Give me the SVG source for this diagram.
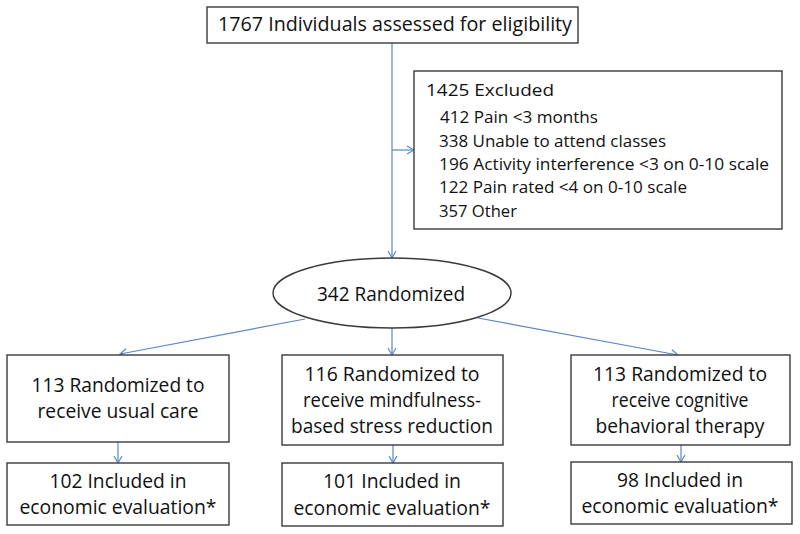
<svg xmlns="http://www.w3.org/2000/svg" width="800" height="534" viewBox="0 0 800 534">
<style>
.box{fill:#fff;stroke:#3a3a3a;stroke-width:1.4}
.t{font-family:"Open Sans","Liberation Sans",sans-serif;fill:#111;font-size:20.5px}
.c{text-anchor:middle}
.e{font-size:19.5px}
.s{font-size:15.5px}
.h{font-size:17px}
.con{stroke:#5a87c6;stroke-width:1.2;fill:none}
</style>
<defs>
<marker id="ah" markerWidth="9" markerHeight="10" refX="8" refY="5" orient="auto" markerUnits="userSpaceOnUse">
<path d="M1,1 L8,5 L1,9" fill="none" stroke="#5a87c6" stroke-width="1.2"/>
</marker>
</defs>
<rect width="800" height="534" fill="#fff"/>
<g id="connectors">
<line class="con" x1="392" y1="43" x2="392" y2="258" marker-end="url(#ah)"/>
<line class="con" x1="392" y1="150" x2="414" y2="150" marker-end="url(#ah)"/>
<line class="con" x1="305" y1="319" x2="120" y2="354" marker-end="url(#ah)"/>
<line class="con" x1="392" y1="328" x2="392" y2="355" marker-end="url(#ah)"/>
<line class="con" x1="478" y1="318" x2="678" y2="355" marker-end="url(#ah)"/>
<line class="con" x1="118" y1="442" x2="118" y2="463" marker-end="url(#ah)"/>
<line class="con" x1="393" y1="445" x2="393" y2="463" marker-end="url(#ah)"/>
<line class="con" x1="681" y1="445" x2="681" y2="462" marker-end="url(#ah)"/>
</g>
<g id="assessed">
<rect class="box" x="207" y="7" width="371" height="36"/>
<text class="t c" x="395" y="31" textLength="354" lengthAdjust="spacingAndGlyphs">1767 Individuals assessed for eligibility</text>
</g>
<g id="excluded">
<rect class="box" x="414" y="71" width="368" height="158"/>
<text class="t h" x="426" y="96" textLength="128" lengthAdjust="spacingAndGlyphs">1425 Excluded</text>
<text class="t s" x="440" y="123" textLength="158" lengthAdjust="spacingAndGlyphs">412 Pain &lt;3 months</text>
<text class="t s" x="439" y="147" textLength="227" lengthAdjust="spacingAndGlyphs">338 Unable to attend classes</text>
<text class="t s" x="439" y="170" textLength="330" lengthAdjust="spacingAndGlyphs">196 Activity interference &lt;3 on 0-10 scale</text>
<text class="t s" x="439" y="193" textLength="248" lengthAdjust="spacingAndGlyphs">122 Pain rated &lt;4 on 0-10 scale</text>
<text class="t s" x="439" y="217" textLength="78" lengthAdjust="spacingAndGlyphs">357 Other</text>
</g>
<g id="randomized">
<ellipse class="box" cx="392" cy="293" rx="119" ry="35"/>
<text class="t c" x="391" y="301" textLength="148" lengthAdjust="spacingAndGlyphs">342 Randomized</text>
</g>
<g id="usualcare">
<rect class="box" x="7" y="355" width="222" height="87"/>
<text class="t c" x="118" y="392" textLength="173" lengthAdjust="spacingAndGlyphs">113 Randomized to</text>
<text class="t c" x="118" y="418" textLength="161" lengthAdjust="spacingAndGlyphs">receive usual care</text>
</g>
<g id="mbsr">
<rect class="box" x="282" y="355" width="221" height="90"/>
<text class="t c" x="392" y="381" textLength="175" lengthAdjust="spacingAndGlyphs">116 Randomized to</text>
<text class="t c" x="392" y="407" textLength="178" lengthAdjust="spacingAndGlyphs">receive mindfulness-</text>
<text class="t c" x="392" y="433" textLength="202" lengthAdjust="spacingAndGlyphs">based stress reduction</text>
</g>
<g id="cbt">
<rect class="box" x="571" y="355" width="219" height="90"/>
<text class="t c" x="680" y="381" textLength="174" lengthAdjust="spacingAndGlyphs">113 Randomized to</text>
<text class="t c" x="680" y="407" textLength="137" lengthAdjust="spacingAndGlyphs">receive cognitive</text>
<text class="t c" x="680" y="433" textLength="169" lengthAdjust="spacingAndGlyphs">behavioral therapy</text>
</g>
<g id="usualcare-eval">
<rect class="box" x="7" y="463" width="222" height="62"/>
<text class="t c e" x="118" y="488" textLength="137" lengthAdjust="spacingAndGlyphs">102 Included in</text>
<text class="t c e" x="118" y="514" textLength="197" lengthAdjust="spacingAndGlyphs">economic evaluation*</text>
</g>
<g id="mbsr-eval">
<rect class="box" x="282" y="463" width="221" height="63"/>
<text class="t c e" x="392" y="488" textLength="138" lengthAdjust="spacingAndGlyphs">101 Included in</text>
<text class="t c e" x="392" y="515" textLength="197" lengthAdjust="spacingAndGlyphs">economic evaluation*</text>
</g>
<g id="cbt-eval">
<rect class="box" x="571" y="462" width="221" height="62"/>
<text class="t c e" x="680" y="487" textLength="126" lengthAdjust="spacingAndGlyphs">98 Included in</text>
<text class="t c e" x="680" y="513" textLength="197" lengthAdjust="spacingAndGlyphs">economic evaluation*</text>
</g>
</svg>
